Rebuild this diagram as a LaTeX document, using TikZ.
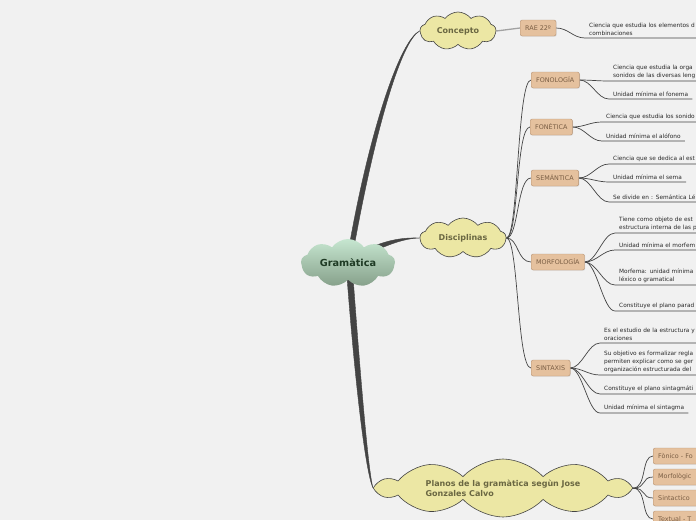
\documentclass[tikz,border=0pt]{standalone}
\usepackage{fontspec}
\setmainfont{DejaVu Sans}
\usetikzlibrary{shapes.symbols, positioning, backgrounds, shadows}

\definecolor{bgcol}{HTML}{F1F1F1}
\definecolor{linkcol}{HTML}{444444}
\definecolor{cloudfill}{HTML}{ECE7A4}
\definecolor{cloudtext}{HTML}{6A6742}
\definecolor{gramtop}{HTML}{C6E6D0}
\definecolor{grambot}{HTML}{86A08A}
\definecolor{gramtext}{HTML}{1E3A24}
\definecolor{boxfill}{HTML}{E5C19E}
\definecolor{boxdraw}{HTML}{B69272}
\definecolor{boxtext}{HTML}{7A5E44}
\definecolor{leaftext}{HTML}{2A2A2A}

\begin{document}
\begin{tikzpicture}[
  x=1pt, y=-1pt,
  central/.style={cloud, cloud puffs=9, cloud puff arc=110, cloud ignores aspect, top color=gramtop, bottom color=grambot, text=gramtext, font=\fontsize{9.7}{11}\selectfont\bfseries, minimum width=94pt, minimum height=48pt},
  topic/.style={cloud, cloud puffs=9, cloud puff arc=105, cloud ignores aspect, draw=linkcol, fill=cloudfill, line width=0.6pt, text=cloudtext, font=\fontsize{8}{10}\selectfont\bfseries, inner sep=1pt},
  subtopic/.style={rectangle, rounded corners=2pt, draw=boxdraw, fill=boxfill, text=boxtext, font=\fontsize{6.4}{8}\selectfont, inner xsep=5pt, minimum height=16pt, anchor=west, drop shadow={opacity=0.2, shadow xshift=0.7pt, shadow yshift=-0.7pt}},
  plane/.style={text width=62pt, align=left},
  leaf/.style={anchor=south west, align=left, inner xsep=4pt, inner ysep=2.5pt, text=leaftext, font=\fontsize{5.8}{8}\selectfont},
  wide/.style={text width=112pt},
  branch/.style={fill=linkcol, draw=linkcol, line width=0.4pt},
  link/.style={draw=linkcol, line width=0.7pt}
]
\useasboundingbox (0,0) rectangle (696,520);
\clip (0,0) rectangle (696,520);

% Central topic and main topics
\node[central] (gram) at (348,263) {Gramàtica};
\node[topic, minimum width=76pt, minimum height=38pt] (concepto) at (458,31) {Concepto};
\node[topic, minimum width=86pt, minimum height=40pt] (disc) at (463,238) {Disciplinas};
\node[topic, cloud puffs=10, cloud puff arc=95, minimum width=250pt, minimum height=58pt, align=left] (planos) at (503,488) {Planos de la gramàtica segùn Jose\\Gonzales Calvo};

% Subtopics
\node[subtopic] (rae) at (520,28) {RAE 22º};
\node[subtopic] (fono) at (531,80) {FONOLOGÍA};
\node[subtopic] (fone) at (530,127) {FONÉTICA};
\node[subtopic] (sema) at (531,178) {SEMÁNTICA};
\node[subtopic] (morf) at (531,262) {MORFOLOGÍA};
\node[subtopic] (sint) at (531,368) {SINTAXIS};

\node[subtopic, plane] (fonico) at (653,456) {Fònico - Fo};
\node[subtopic, plane] (morfo) at (653,477) {Morfològic};
\node[subtopic, plane] (sintac) at (653,498) {Sintactico};
\node[subtopic, plane] (textual) at (653,519) {Textual - T};

% Leaves
\node[leaf, wide] (r1) at (585,38) {Ciencia que estudia los elementos d\\combinaciones};

\node[leaf, wide] (f1) at (609,81) {Ciencia que estudia la orga\\sonidos de las diversas leng};
\node[leaf] (f2) at (609,99) {Unidad mínima el fonema};

\node[leaf, wide] (e1) at (602,122) {Ciencia que estudia los sonido};
\node[leaf] (e2) at (602,141) {Unidad mínima el alófono};

\node[leaf, wide] (s1) at (609,164) {Ciencia que se dedica al est};
\node[leaf] (s2) at (609,182) {Unidad mínima el sema};
\node[leaf, wide] (s3) at (609,202) {Se divide en : Semántica Lé};

\node[leaf, wide] (m1) at (615,233) {Tiene como objeto de est\\estructura interna de las p};
\node[leaf, wide] (m2) at (615,250) {Unidad mínima el morfem};
\node[leaf, wide] (m3) at (615,285) {Morfema: unidad mínima\\léxico o gramatical};
\node[leaf, wide] (m4) at (615,311) {Constituye el plano parad};

\node[leaf, wide] (x1) at (600,343) {Es el estudio de la estructura y\\oraciones};
\node[leaf, wide] (x2) at (600,375) {Su objetivo es formalizar regla\\permiten explicar como se ger\\organización estructurada del};
\node[leaf, wide] (x3) at (600,394) {Constituye el plano sintagmáti};
\node[leaf] (x4) at (600,413) {Unidad mínima el sintagma};

% Connectors
\begin{scope}[on background layer]
\clip (0,0) rectangle (696,520);
\fill[bgcol] (0,0) rectangle (696,520);

\fill[branch] ([xshift=2pt,yshift=-3pt]gram.north) .. controls (370,130) and (400,40) .. (concepto.west) .. controls (401,41) and (375,132) .. ([xshift=7pt,yshift=-3pt]gram.north) -- cycle;
\fill[branch] ([shift={(26pt,17pt)}]gram.center) .. controls (392,239) and (405,237.5) .. (disc.west) .. controls (405,238.5) and (393,243) .. ([shift={(26pt,12pt)}]gram.center) -- cycle;
\fill[branch] ([xshift=-1pt,yshift=3pt]gram.south) .. controls (354,370) and (365,472) .. (planos.west) .. controls (368,471) and (360,370) .. ([xshift=5pt,yshift=3pt]gram.south) -- cycle;

\draw[link, draw=linkcol!50, line width=1.3pt] (concepto.east) -- (rae.west);

\foreach \b in {fono,fone,sema,morf,sint}
  \draw[link] (disc.east) .. controls +(12,0) and +(-14,0) .. (\b.west);

\foreach \b in {fonico,morfo,sintac,textual}
  \draw[link] (planos.east) .. controls +(14,0) and +(-12,0) .. (\b.west);

\foreach \p/\l in {rae/r1, fono/f1, fono/f2, fone/e1, fone/e2, sema/s1, sema/s2, sema/s3, morf/m1, morf/m2, morf/m3, morf/m4, sint/x1, sint/x2, sint/x3, sint/x4}
  \draw[link] (\p.east) .. controls +(12,0) and +(-12,0) .. (\l.south west) -- (\l.south east);
\end{scope}

\end{tikzpicture}
\end{document}
